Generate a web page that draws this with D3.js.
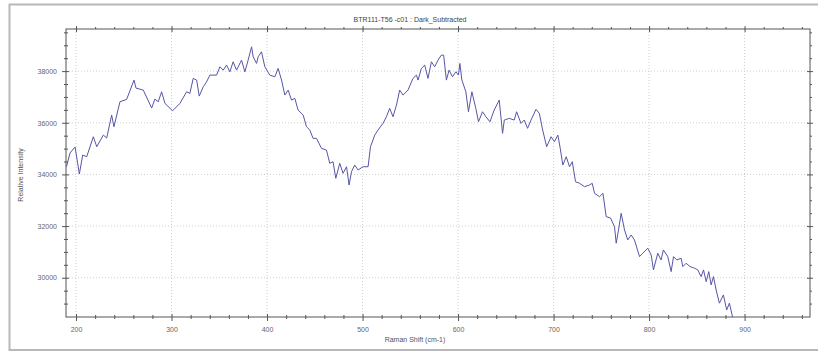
<!DOCTYPE html>
<html><head><meta charset="utf-8">
<script src="https://cdn.jsdelivr.net/npm/d3@7/dist/d3.min.js"></script>
<style>body{margin:0;background:#fff;}svg{display:block;}</style>
</head><body>
<svg id="c" width="818" height="352"></svg>
<script>
const title = "BTR111-T56 -c01 : Dark_Subtracted";
const xLabel = "Raman Shift (cm-1)";
const yLabel = "Relative Intensity";
const xTicks = [200,300,400,500,600,700,800,900];
const yTicks = [30000,32000,34000,36000,38000];
const ramanShift = [190,193.7,199,203.5,207,211.2,218.1,221.7,228.6,232.1,237.3,239.7,246,253,260.7,262.8,270.4,279.2,282.6,286.1,289.6,293.1,301.1,308.8,315.8,319.2,322.7,326.3,329,333.2,336.7,340.2,347.2,350.6,354.1,357.6,361.1,364.5,368.1,373.3,376.8,380.2,383.8,385.5,389,390.7,394.2,397.7,402.9,408.2,411.6,415.2,418.6,422.1,425.6,429.1,432.5,437.8,441.3,444.8,448.2,451.8,457,462.2,465.7,469.1,472,476.1,479.6,483.2,485.9,488.4,491.8,495.3,500.5,505.8,508.3,512.8,516.2,521.4,525,528.4,531.9,535.5,538.9,542.4,547.6,552.8,556.4,558.1,561.6,565.1,568.5,572.1,575.5,579,582.5,584.9,587.8,590.6,594.1,597.7,600.4,601.9,604,608.2,610.9,614.5,618.6,621.4,625.6,629.2,633.4,637.8,643.1,646.6,648.4,653.6,658.8,661.3,665.9,669.3,672.8,676.4,681.6,685.1,688.6,692.8,697.4,700.9,704.5,707,709.7,713.3,716.7,719.6,723,727.2,732.4,737.6,740.5,742.9,748.1,751.7,755.1,759.6,763.8,765.6,768,770.8,774.3,777.7,781.3,784.7,790,793.4,798.6,802.2,804.6,809.1,812.6,815,819.6,823.1,825.6,829,833.6,835.3,838.8,843,847.6,851,854.5,857,859.8,862.5,865,867.4,870.2,873.6,877.8,881.3,884.1,886.9,889.3];
const intensity = [34298,34828,35060,34016,34751,34685,35459,35072,35524,35408,36298,35846,36813,36905,37652,37342,37265,36569,36917,36813,37199,36751,36464,36751,37199,37137,37718,37652,37033,37393,37586,37845,37845,38166,38039,38232,37973,38360,38039,38425,37973,38425,38940,38553,38298,38553,38747,38166,37845,37780,38104,37652,37072,37265,36878,36944,36492,36298,35846,35718,35397,35397,35010,34944,34430,34492,33850,34430,34043,34298,33590,34105,34364,34171,34298,34298,35072,35524,35718,35977,36232,36557,36232,36685,37265,37072,37265,37718,37845,37652,38104,38232,37718,38360,38166,38425,38619,38619,37652,38039,37780,37973,37845,38298,37652,37199,36426,37199,36557,36039,36426,36232,36039,36492,36878,35590,36105,36170,36105,36426,35977,36105,35784,36105,36519,36364,35718,35072,35459,35265,35524,35010,34364,34685,34298,34492,33718,33656,33525,33590,33656,33269,33138,33269,32364,32314,31977,31335,31850,32496,31850,31463,31657,31463,30817,30948,31142,30883,30303,30948,30690,31076,30817,30237,30817,30690,30755,30430,30560,30430,30368,30303,30043,30303,29850,30237,29722,30043,29529,29015,29335,28755,29015,28562,28175];

const svg = d3.select("#c");
const m = {l:66, r:810, t:29, b:317};
const x = d3.scaleLinear().domain([189.5, 968.5]).range([m.l, m.r]);
const y = d3.scaleLinear().domain([28480, 39630]).range([m.b, m.t]);

// outer window frame
svg.append("rect").attr("x",9.5).attr("y",4.5).attr("width",830).attr("height",345.5)
  .attr("fill","none").attr("stroke","#b8b8b8").attr("stroke-width",2);

// grid
const g = svg.append("g");
g.selectAll(".gx").data(xTicks).join("line")
  .attr("x1",d=>x(d)).attr("x2",d=>x(d)).attr("y1",m.t).attr("y2",m.b)
  .attr("stroke","#cfcfcf").attr("stroke-width",1).attr("stroke-dasharray","1,2");
g.selectAll(".gy").data(yTicks).join("line")
  .attr("y1",d=>y(d)).attr("y2",d=>y(d)).attr("x1",m.l).attr("x2",m.r)
  .attr("stroke","#cfcfcf").attr("stroke-width",1).attr("stroke-dasharray","1,2");

// data line
svg.append("clipPath").attr("id","clip").append("rect")
  .attr("x",m.l).attr("y",m.t).attr("width",m.r-m.l).attr("height",m.b-m.t);
const line = d3.line().x((d,i)=>x(ramanShift[i])).y(d=>y(d));
svg.append("path").datum(intensity).attr("d",line).attr("clip-path","url(#clip)")
  .attr("fill","none").attr("stroke","#5656a6").attr("stroke-width",1);

// frame
svg.append("rect").attr("x",m.l).attr("y",m.t).attr("width",m.r-m.l).attr("height",m.b-m.t)
  .attr("fill","none").attr("stroke","#555").attr("stroke-width",1);

const axisColor = "#555";
function styleAxis(sel){
  sel.select(".domain").remove();
  sel.selectAll("line").attr("stroke",axisColor);
  sel.selectAll("text").attr("fill","#666").style("font-family","Liberation Sans, Arial, sans-serif").style("font-size","7px");
}
const xMinor = d3.range(200, 961, 20).filter(v=>xTicks.indexOf(v)<0);
const yMinor = d3.range(29000, 39600, 500).filter(v=>yTicks.indexOf(v)<0);

// bottom axis
svg.append("g").attr("transform",`translate(0,${m.b})`)
  .call(d3.axisBottom(x).tickValues(xTicks).tickSize(4).tickPadding(6).tickFormat(d3.format("d")))
  .call(styleAxis).selectAll("line").attr("y1",-3);
svg.append("g").attr("transform",`translate(0,${m.b})`)
  .call(d3.axisBottom(x).tickValues(xMinor).tickSize(2).tickFormat(""))
  .call(styleAxis).selectAll("line").attr("y1",-2);
// top axis ticks
svg.append("g").attr("transform",`translate(0,${m.t})`)
  .call(d3.axisTop(x).tickValues(xTicks).tickSize(3).tickFormat(""))
  .call(styleAxis).selectAll("line").attr("y1",3);
svg.append("g").attr("transform",`translate(0,${m.t})`)
  .call(d3.axisTop(x).tickValues(xMinor).tickSize(2).tickFormat(""))
  .call(styleAxis);
// left axis
svg.append("g").attr("transform",`translate(${m.l},0)`)
  .call(d3.axisLeft(y).tickValues(yTicks).tickSize(4).tickPadding(5).tickFormat(d3.format("d")))
  .call(styleAxis).selectAll("line").attr("x1",3);
svg.append("g").attr("transform",`translate(${m.l},0)`)
  .call(d3.axisLeft(y).tickValues(yMinor).tickSize(2).tickFormat(""))
  .call(styleAxis).selectAll("line").attr("x1",2);
// right axis ticks
svg.append("g").attr("transform",`translate(${m.r},0)`)
  .call(d3.axisRight(y).tickValues(yTicks).tickSize(3).tickFormat(""))
  .call(styleAxis).selectAll("line").attr("x1",-3);
svg.append("g").attr("transform",`translate(${m.r},0)`)
  .call(d3.axisRight(y).tickValues(yMinor).tickSize(2).tickFormat(""))
  .call(styleAxis);

// texts
svg.append("text").attr("x",410).attr("y",22).attr("text-anchor","middle")
  .style("font-family","Liberation Sans, Arial, sans-serif").style("font-size","7px").attr("fill","#444").text(title);
svg.append("text").attr("x",415).attr("y",342).attr("text-anchor","middle")
  .style("font-family","Liberation Sans, Arial, sans-serif").style("font-size","7px").attr("fill","#555").text(xLabel);
svg.append("text").attr("transform","translate(23,175) rotate(-90)").attr("text-anchor","middle")
  .style("font-family","Liberation Sans, Arial, sans-serif").style("font-size","7px").attr("fill","#555").text(yLabel);
</script>
</body></html>
